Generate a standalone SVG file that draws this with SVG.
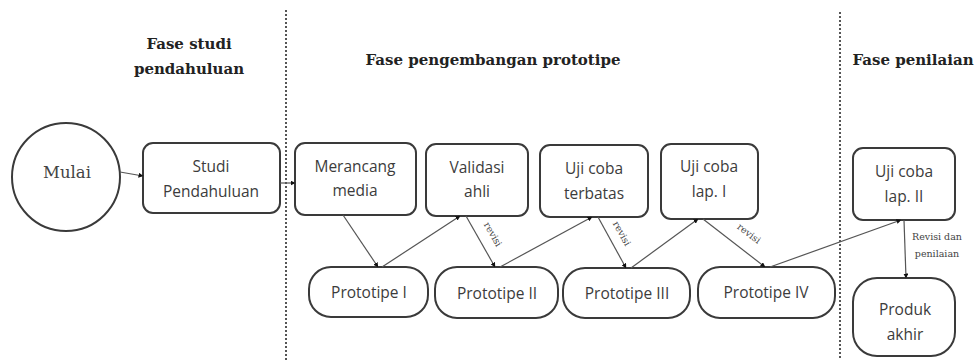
<svg xmlns="http://www.w3.org/2000/svg" width="975" height="360" viewBox="0 0 975 360">
<defs>
<marker id="ah" viewBox="0 0 10 10" refX="9" refY="5" markerWidth="5" markerHeight="5" orient="auto-start-reverse" markerUnits="userSpaceOnUse">
<path d="M0,0 L10,5 L0,10 z" fill="#111"/>
</marker>
<style>
.box{fill:#fff;stroke:#3a3a3a;stroke-width:2}
.t{font-family:"Open Sans","Noto Sans",sans-serif;font-size:15.5px;fill:#3c3c3c;text-anchor:middle}
.h{font-family:"DejaVu Serif","Liberation Serif",serif;font-weight:bold;font-size:15px;fill:#222;text-anchor:middle}
.c{stroke:#555;stroke-width:1.2;fill:none;marker-end:url(#ah)}
.r{font-family:"DejaVu Serif","Liberation Serif",serif;font-size:9.5px;fill:#444;text-anchor:middle}
.dot{stroke:#555;stroke-width:2;stroke-dasharray:2 2}
</style>
</defs>
<rect width="975" height="360" fill="#fff"/>
<g id="dividers">
<line class="dot" x1="286" y1="10" x2="286" y2="360"/>
<line class="dot" x1="840" y1="12" x2="840" y2="360"/>
</g>
<g id="headers">
<text class="h" x="189" y="49">Fase studi</text>
<text class="h" x="189" y="74">pendahuluan</text>
<text class="h" x="493" y="65">Fase pengembangan prototipe</text>
<text class="h" x="913" y="65">Fase penilaian</text>
</g>
<g id="mulai">
<circle cx="66" cy="177" r="54" fill="#fff" stroke="#3a3a3a" stroke-width="2"/>
<text x="67" y="178" font-family="DejaVu Serif,'Liberation Serif',serif" font-size="16.5" fill="#444" text-anchor="middle">Mulai</text>
</g>
<g id="studi">
<rect class="box" x="143" y="143" width="137" height="70" rx="10"/>
<text class="t" x="211" y="172">Studi</text>
<text class="t" x="211" y="197">Pendahuluan</text>
</g>
<g id="merancang">
<rect class="box" x="295" y="143" width="121" height="72" rx="10"/>
<text class="t" x="355" y="172">Merancang</text>
<text class="t" x="355" y="196">media</text>
</g>
<g id="validasi">
<rect class="box" x="426" y="144" width="102" height="72" rx="10"/>
<text class="t" x="477" y="173">Validasi</text>
<text class="t" x="477" y="197">ahli</text>
</g>
<g id="terbatas">
<rect class="box" x="540" y="145" width="108" height="72" rx="10"/>
<text class="t" x="594" y="174">Uji coba</text>
<text class="t" x="594" y="199">terbatas</text>
</g>
<g id="lap1">
<rect class="box" x="661" y="144" width="97" height="75" rx="10"/>
<text class="t" x="709" y="172">Uji coba</text>
<text class="t" x="709" y="197">lap. I</text>
</g>
<g id="lap2">
<rect class="box" x="853" y="148" width="102" height="72" rx="10"/>
<text class="t" x="904" y="177">Uji coba</text>
<text class="t" x="904" y="202">lap. II</text>
</g>
<g id="p1">
<rect class="box" x="309" y="267" width="119" height="50" rx="22"/>
<text class="t" x="369" y="298">Prototipe I</text>
</g>
<g id="p2">
<rect class="box" x="435" y="267" width="123" height="51" rx="22"/>
<text class="t" x="497" y="299">Prototipe II</text>
</g>
<g id="p3">
<rect class="box" x="563" y="268" width="127" height="50" rx="22"/>
<text class="t" x="627" y="299">Prototipe III</text>
</g>
<g id="p4">
<rect class="box" x="698" y="267" width="137" height="51" rx="22"/>
<text class="t" x="766" y="298">Prototipe IV</text>
</g>
<g id="produk">
<rect class="box" x="853" y="278" width="102" height="78" rx="24"/>
<text class="t" x="905" y="315">Produk</text>
<text class="t" x="905" y="340">akhir</text>
</g>
<g id="connectors">
<line class="c" x1="120" y1="172" x2="143" y2="176"/>
<line class="c" x1="280" y1="183" x2="295" y2="183"/>
<line class="c" x1="343" y1="215" x2="378" y2="267"/>
<line class="c" x1="382" y1="267" x2="460" y2="216"/>
<line class="c" x1="466" y1="216" x2="495" y2="267"/>
<line class="c" x1="500" y1="267" x2="592" y2="217"/>
<line class="c" x1="598" y1="217" x2="626" y2="268"/>
<line class="c" x1="631" y1="268" x2="698" y2="219"/>
<line class="c" x1="703" y1="219" x2="765" y2="267"/>
<line class="c" x1="770" y1="267" x2="901" y2="220"/>
<line class="c" x1="904" y1="220" x2="906" y2="278"/>
<text class="r" transform="translate(490,236) rotate(60)">revisi</text>
<text class="r" transform="translate(619,235) rotate(61)">revisi</text>
<text class="r" transform="translate(747,236) rotate(37)">revisi</text>
<text class="r" x="937" y="240">Revisi dan</text>
<text class="r" x="937" y="257">penilaian</text>
</g>
</svg>
